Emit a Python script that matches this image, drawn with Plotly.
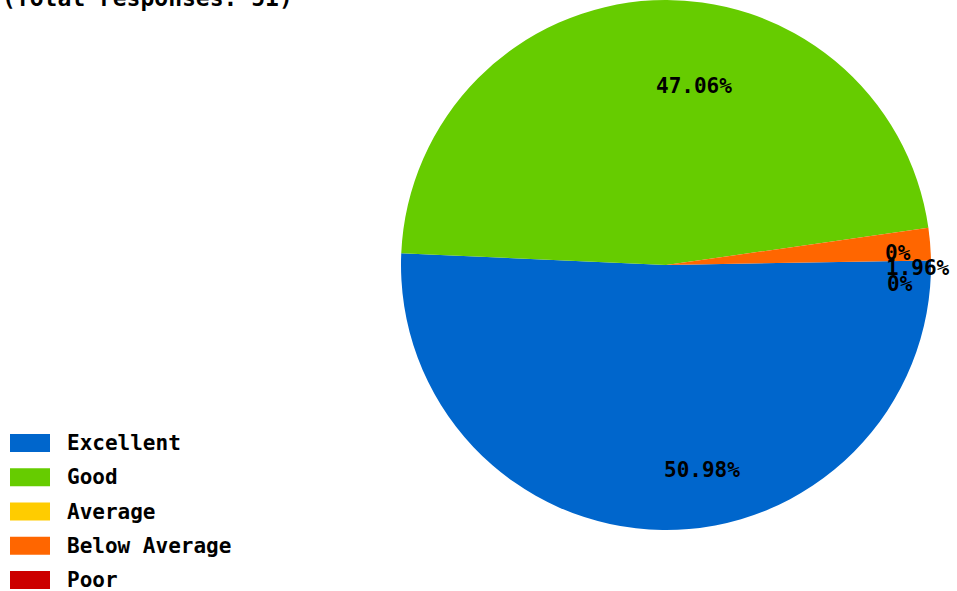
import math
import plotly.graph_objects as go

categories = ["Excellent", "Good", "Average", "Below Average", "Poor"]
responses = [26, 24, 0, 1, 0]
colors = ["#0066CC", "#66CC00", "#FFCC00", "#FF6600", "#CC0000"]
total = sum(responses)
title_text = f"(Total responses: {total})"


def pct_label(v):
    p = v / total * 100
    return "0%" if v == 0 else f"{p:.2f}%"


labels_txt = [pct_label(v) for v in responses]

W, H = 957, 591
FONT = "DejaVu Sans Mono"
ROTATION = 89  # degrees clockwise from 12 o'clock where the first slice starts

cx, cy, R = 666, 265, 265
fig = go.Figure(go.Pie(
    labels=categories,
    values=responses,
    textinfo="none",
    marker=dict(colors=colors, line=dict(width=0)),
    sort=False,
    direction="clockwise",
    rotation=ROTATION,
    showlegend=False,
    hoverinfo="label+value+percent",
    domain=dict(x=[(cx - R) / W, (cx + R) / W], y=[1 - (cy + R) / H, 1 - (cy - R) / H]),
))

annotations = [dict(
    text=f"<b>{title_text}</b>", xref="paper", yref="paper", x=0, y=1,
    xanchor="left", yanchor="bottom", yshift=-13, showarrow=False,
    font=dict(family=FONT, size=23, color="#000000"),
)]

# percentage labels placed from each slice's mid angle
kx, ky = 0.83, 0.725
acc = 0.0
small_idx = 0
for v, txt in zip(responses, labels_txt):
    frac = v / total
    mid = ROTATION + 360 * (acc + frac / 2)  # clockwise from top
    acc += frac
    a = math.radians(mid)
    px = cx + kx * R * math.sin(a)
    py = cy - ky * R * math.cos(a)
    shift = 0
    if frac < 0.05:  # spread crowded labels of tiny slices a little
        shift = -(2 + 3.5 * small_idx)
        small_idx += 1
    annotations.append(dict(
        text=f"<b>{txt}</b>", xref="paper", yref="paper",
        x=px / W, y=1 - py / H, xanchor="left", yanchor="top",
        yshift=shift, showarrow=False, borderpad=0,
        font=dict(family=FONT, size=21, color="#000000"),
    ))

shapes = []
# legend swatches and labels
leg_top = 443
step = 34.25
for i, (cat, col) in enumerate(zip(categories, colors)):
    yc = leg_top + i * step
    shapes.append(dict(type="rect", xref="paper", yref="paper",
                       x0=10 / W, x1=50 / W, y0=1 - (yc + 9) / H, y1=1 - (yc - 9) / H,
                       fillcolor=col, line=dict(width=0)))
    annotations.append(dict(text=f"<b>{cat}</b>", xref="paper", yref="paper",
                            x=65 / W, y=1 - yc / H, xanchor="left", yanchor="middle",
                            showarrow=False,
                            font=dict(family=FONT, size=21, color="#000000")))

fig.update_layout(
    width=W, height=H,
    margin=dict(l=0, r=0, t=0, b=0),
    paper_bgcolor="#FFFFFF",
    plot_bgcolor="#FFFFFF",
    shapes=shapes,
    annotations=annotations,
)
fig.write_html(
    "out.html",
    config={"displayModeBar": False},
    post_script="document.body.style.margin='0';document.body.style.overflow='hidden';",
)
